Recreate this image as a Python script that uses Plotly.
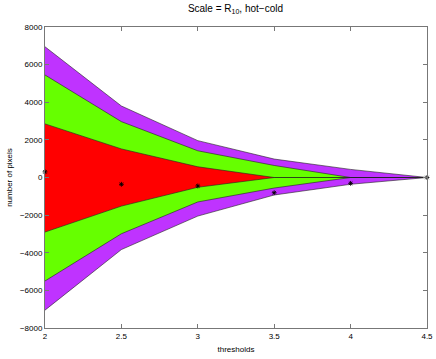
import plotly.graph_objects as go

thresholds = [2, 2.5, 3, 3.5, 4, 4.5]

purple_top = [6950, 3800, 1960, 980, 430, 0]
green_top = [5450, 2970, 1420, 640, 0, 0]
red_top = [2850, 1520, 570, 0, 0, 0]
red_bottom = [-2900, -1520, -520, 0, 0, 0]
green_bottom = [-5500, -2990, -1300, -560, 0, 0]
purple_bottom = [-7050, -3830, -2050, -930, -360, 0]

net_values = [300, -360, -450, -810, -310, 0]

bands = [
    (purple_top, purple_bottom, "#BF33FF"),
    (green_top, green_bottom, "#66FF00"),
    (red_top, red_bottom, "#FF0000"),
]

fig = go.Figure()
for top, bottom, color in bands:
    fig.add_trace(
        go.Scatter(
            x=thresholds + thresholds[::-1],
            y=top + bottom[::-1],
            fill="toself",
            fillcolor=color,
            mode="lines",
            line=dict(color="#222222", width=0.6),
            showlegend=False,
            hoverinfo="skip",
        )
    )

fig.add_trace(
    go.Scatter(
        x=thresholds,
        y=net_values,
        mode="markers",
        marker=dict(symbol="asterisk-open", size=4, color="black",
                    line=dict(color="black", width=0.9)),
        showlegend=False,
        cliponaxis=False,
    )
)

axis_style = dict(
    showgrid=False,
    zeroline=False,
    showline=True,
    linecolor="#777777",
    linewidth=1,
    mirror="ticks",
    ticks="inside",
    ticklen=4,
    tickcolor="#777777",
    tickfont=dict(size=8, color="black"),
    automargin=False,
    ticklabeloverflow="allow",
)

fig.update_xaxes(
    range=[2, 4.5],
    tickvals=[2, 2.5, 3, 3.5, 4, 4.5],
    ticktext=["2", "2.5", "3", "3.5", "4", "4.5"],
    title=dict(text="thresholds", font=dict(size=8, color="black"), standoff=6),
    **axis_style,
)
fig.update_yaxes(
    range=[-8000, 8000],
    tickvals=list(range(-8000, 8001, 2000)),
    ticktext=["\u22128000", "\u22126000", "\u22124000", "\u22122000", "0",
              "2000", "4000", "6000", "8000"],
    title=dict(text="number of pixels", font=dict(size=8, color="black"), standoff=6),
    **axis_style,
)

fig.update_layout(
    width=436,
    height=359,
    margin=dict(l=45, r=9, t=27, b=31),
    paper_bgcolor="white",
    plot_bgcolor="white",
    font=dict(family="Liberation Sans, Arial, sans-serif", size=8, color="black"),
    title=dict(
        text="Scale = R<sub>10</sub>, hot\u2212cold",
        x=0.54,
        xanchor="center",
        y=0.985,
        yanchor="top",
        font=dict(size=10, color="black"),
    ),
)

# the page's default 8px body margin would shift the whole figure
fig.write_html(
    "out.html",
    config={"displayModeBar": False},
    post_script="document.body.style.margin = '0';",
)
